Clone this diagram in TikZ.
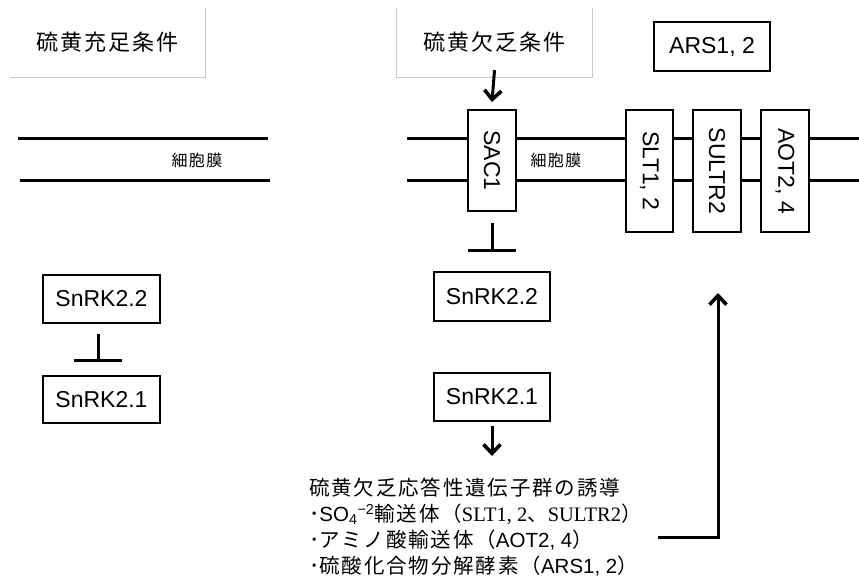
\documentclass[tikz,border=0pt]{standalone}
\usepackage{fontspec}
\setmainfont{Liberation Sans}
\newfontfamily\jp[LetterSpace=9]{Noto Sans CJK JP}
\newfontfamily\jpn{Noto Sans CJK JP}
\newfontfamily\tms{Liberation Serif}
\usetikzlibrary{arrows.meta}
\definecolor{edgegray}{RGB}{200,200,200}
\tikzset{
  box/.style={draw, line width=2pt, fill=white, inner sep=0pt, font=\fontsize{23}{26}\selectfont},
  vbox/.style={box, rotate=-90},
  title/.style={inner sep=0pt, font=\fontsize{22}{26}\selectfont\jp},
  memlabel/.style={inner sep=0pt, font=\fontsize{16}{18}\selectfont\jp},
  mem/.style={line width=3pt},
  arr/.style={line width=3pt, -{Straight Barb[length=9pt,width=17pt,line width=3.6pt]}},
  inhib/.style={line width=3pt, -{Bar[width=48pt]}},
  gray edge/.style={draw=edgegray, line width=0.8pt}
}
\begin{document}
\begin{tikzpicture}[x=1pt,y=-1pt]
\useasboundingbox (0,0) rectangle (859,584);
% titles
\node[title, minimum width=195pt, minimum height=69pt] (t1) at (107.5,42.5) {硫黄充足条件};
\node[title, minimum width=195pt, minimum height=69pt] (t2) at (494.5,42.5) {硫黄欠乏条件};
\draw[gray edge] (t1.north east) -- (t1.south east) -- (t1.south west);
\draw[gray edge] (t2.north west) -- (t2.south west) -- (t2.south east) -- (t2.north east);
% membranes
\coordinate (lm1a) at (18,138); \coordinate (lm1b) at (268,138);
\coordinate (lm2a) at (20,180); \coordinate (lm2b) at (270,180);
\draw[mem] (lm1a) -- (lm1b);
\draw[mem] (lm2a) -- (lm2b);
\node[memlabel] (ml1) at (197,160) {細胞膜};
\coordinate (rm1a) at (407,138); \coordinate (rm1b) at (859,138);
\coordinate (rm2a) at (407,180); \coordinate (rm2b) at (859,180);
\draw[mem] (rm1a) -- (rm1b);
\draw[mem] (rm2a) -- (rm2b);
\node[memlabel] (ml2) at (556,160) {細胞膜};
% membrane proteins
\node[vbox, minimum width=101pt, minimum height=48pt] (sac) at (492,160.5) {SAC1};
\node[vbox, minimum width=122pt, minimum height=47pt] (slt) at (649.5,171) {SLT1, 2};
\node[vbox, minimum width=122pt, minimum height=48pt] (sul) at (717,171) {SULTR2};
\node[vbox, minimum width=122pt, minimum height=48pt] (aot) at (785,171) {AOT2, 4};
\node[box, minimum width=116pt, minimum height=49pt] (ars) at (712,46.5) {ARS1, 2};
% left side
\node[box, minimum width=117pt, minimum height=48pt] (l22) at (101.5,299) {SnRK2.2};
\node[box, minimum width=117pt, minimum height=47pt] (l21) at (101.5,399.5) {SnRK2.1};
\draw[inhib] ([xshift=-3.5pt,yshift=-10pt]l22.south) -- ([xshift=-3.5pt,yshift=13pt]l21.north);
% right side
\node[box, minimum width=116pt, minimum height=49pt] (r22) at (492,296.5) {SnRK2.2};
\node[box, minimum width=116pt, minimum height=48pt] (r21) at (492,397) {SnRK2.1};
\draw[arr] ([yshift=7pt]t2.south) -- ([yshift=7pt]sac.west);
\draw[inhib] ([yshift=-11pt]sac.east) -- ([yshift=19pt]r22.north);
\node[anchor=north west, align=left, inner sep=0pt, font=\fontsize{20.5}{26}\selectfont] (genes) at (309,478)
  {{\jp 硫黄欠乏応答性遺伝子群の誘導}\\
   {\jpn ･}SO\textsubscript{4}\textsuperscript{−2}{\jp 輸送体（}{\tms SLT1, 2}{\jp 、}{\tms SULTR2}{\jp ）}\\
   {\jpn ･}{\jp アミノ酸輸送体（}AOT2, 4{\jp ）}\\
   {\jpn ･}{\jp 硫酸化合物分解酵素（}ARS1, 2{\jp ）}};
\draw[arr] ([yshift=-4pt]r21.south) -- ([yshift=-34pt]r21.south);
\coordinate (a0) at (658,537);
\coordinate (a1) at (718,293);
\draw[arr] (a0) -| (a1);
\end{tikzpicture}
\end{document}
